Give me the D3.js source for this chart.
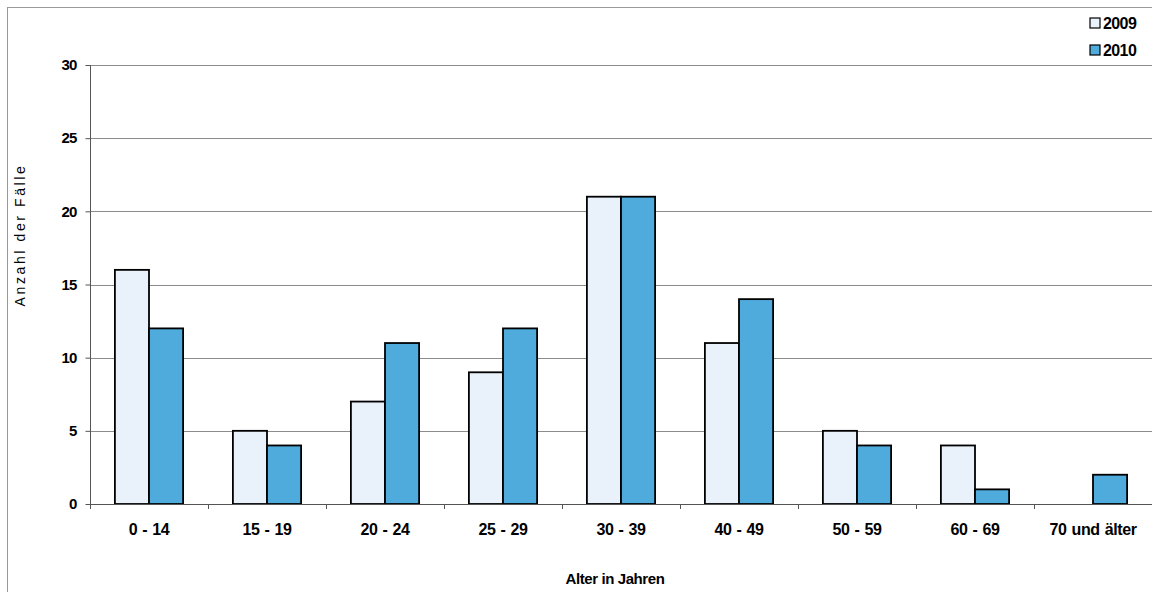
<!DOCTYPE html>
<html><head><meta charset="utf-8">
<script src="https://cdn.jsdelivr.net/npm/d3@7"></script>
<style>
body{margin:0;background:#fff;}
text{font-family:"Liberation Sans",Arial,sans-serif;}
</style></head>
<body><svg id="c" width="1152" height="592"></svg>
<script>
const categories=["0 - 14","15 - 19","20 - 24","25 - 29","30 - 39","40 - 49","50 - 59","60 - 69","70 und älter"];
const series=["2009","2010"];
const values2009=[16,5,7,9,21,11,5,4,0];
const values2010=[12,4,11,12,21,14,4,1,2];
const yTicks=[0,5,10,15,20,25,30];
const colors=["#E9F1FB","#4FABDC"];

const svg=d3.select("#c");
const L=90,R=1152,T=65,B=504;
// outer frame
svg.append("line").attr("x1",7.5).attr("x2",7.5).attr("y1",7).attr("y2",592).attr("stroke","#999");
svg.append("line").attr("x1",7).attr("x2",1152).attr("y1",7.5).attr("y2",7.5).attr("stroke","#999");

const x=d3.scaleBand().domain(categories).range([L,R]).paddingInner(0).paddingOuter(0);
const xs=d3.scaleBand().domain(series).range([0,x.bandwidth()]).paddingOuter(0.73).paddingInner(0);
const y=d3.scaleLinear().domain([0,30]).range([B,T]);

// gridlines
svg.append("g").selectAll("line").data(yTicks.filter(d=>d>0)).join("line")
 .attr("x1",L).attr("x2",R).attr("y1",d=>Math.round(y(d))+0.5).attr("y2",d=>Math.round(y(d))+0.5)
 .attr("stroke","#8c8c8c");

// bars
const data=categories.map((c,i)=>({c,v:[values2009[i],values2010[i]]}));
const g=svg.append("g");
data.forEach(d=>{
  series.forEach((s,j)=>{
    if(d.v[j]>0){
      g.append("rect").attr("x",x(d.c)+xs(s)).attr("y",y(d.v[j]))
       .attr("width",xs.bandwidth()).attr("height",B-y(d.v[j]))
       .attr("fill",colors[j]).attr("stroke","#000").attr("stroke-width",1.8);
    }
  });
});

// y axis
const ya=svg.append("g").attr("transform",`translate(${L+0.5},0)`)
 .call(d3.axisLeft(y).tickValues(yTicks).tickSize(5).tickPadding(9));
ya.select(".domain").attr("stroke","#555").attr("d",`M0,${T}V${B}`);
ya.selectAll(".tick line").attr("stroke","#555");
ya.selectAll("text").attr("font-size",15).attr("font-weight","bold").attr("fill","#000")
 .attr("font-family","Liberation Sans, Arial, sans-serif").attr("letter-spacing","-0.8");

// x axis
const xa=svg.append("g").attr("transform",`translate(0,${B+0.5})`)
 .call(d3.axisBottom(x).tickSize(0).tickPadding(19));
xa.select(".domain").attr("stroke","#555").attr("d",`M${L},0H${R}`);
xa.selectAll("text").attr("font-size",16).attr("font-weight","bold").attr("fill","#000")
 .attr("font-family","Liberation Sans, Arial, sans-serif").attr("letter-spacing","-0.4").attr("word-spacing","1");
// boundary ticks
svg.append("g").selectAll("line").data(categories).join("line")
 .attr("x1",d=>Math.round(x(d))+0.5).attr("x2",d=>Math.round(x(d))+0.5)
 .attr("y1",B).attr("y2",B+5).attr("stroke","#555");

// titles
svg.append("text").attr("x",615).attr("y",584).attr("text-anchor","middle")
 .attr("font-size",15).attr("font-weight","bold").attr("letter-spacing","-0.4").text("Alter in Jahren");
svg.append("text").attr("transform","translate(25,235) rotate(-90)").attr("text-anchor","middle")
 .attr("font-size",14).attr("letter-spacing","2.6").text("Anzahl der Fälle");

// legend
const lg=svg.append("g");
series.forEach((s,j)=>{
  const yy=23+j*27;
  lg.append("rect").attr("x",1090).attr("y",yy-5).attr("width",10).attr("height",10)
   .attr("fill",colors[j]).attr("stroke","#000").attr("stroke-width",1.2);
  lg.append("text").attr("x",1103).attr("y",yy+6).attr("font-size",16).attr("font-weight","bold").attr("letter-spacing","-0.6").text(s);
});
</script></body></html>
